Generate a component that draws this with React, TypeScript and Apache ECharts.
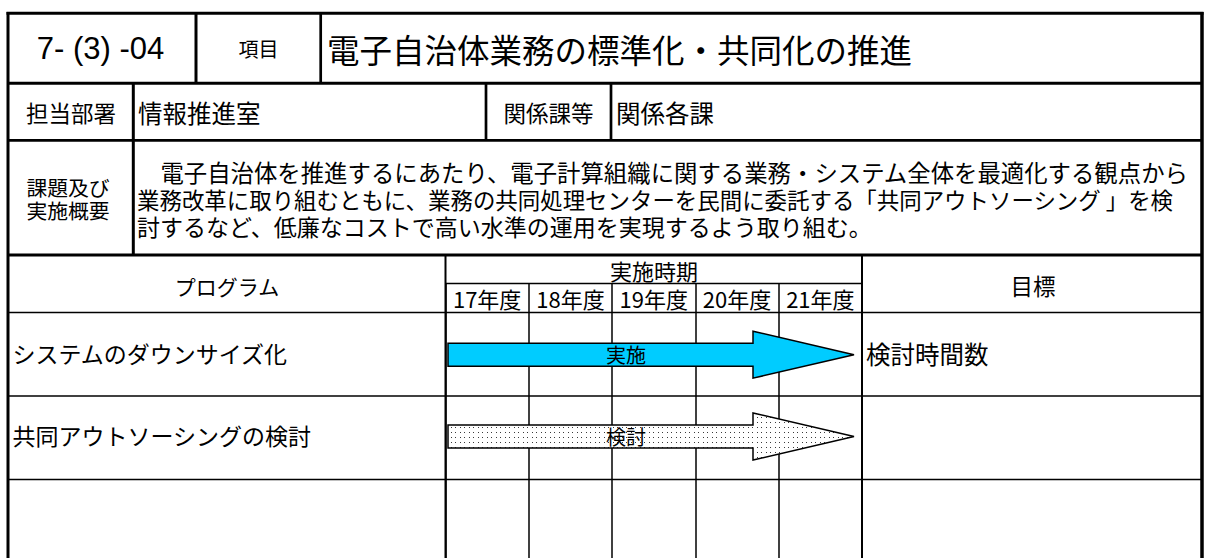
import React, { useEffect, useRef } from 'react';
import * as echarts from 'echarts';

// ---- data ----
const years = ['17年度', '18年度', '19年度', '20年度', '21年度'];
const programs = ['システムのダウンサイズ化', '共同アウトソーシングの検討', ''];
const targets = ['検討時間数', '', ''];
const startFY = [17, 17];
const endFY = [21, 21];
const arrowLabels = ['実施', '検討'];
const arrowKinds = ['solid', 'dots'];

const headerCode = '7- (3) -04';
const headerItem = '項目';
const title = '電子自治体業務の標準化・共同化の推進';
const deptLabel = '担当部署';
const dept = '情報推進室';
const relLabel = '関係課等';
const rel = '関係各課';
const summaryLabel = ['課題及び', '実施概要'];
const summaryLines = [
  '　電子自治体を推進するにあたり、電子計算組織に関する業務・システム全体を最適化する観点から',
  '業務改革に取り組むともに、業務の共同処理センターを民間に委託する「共同アウトソーシング 」を検',
  '討するなど、低廉なコストで高い水準の運用を実現するよう取り組む。',
];
const programHeader = 'プログラム';
const periodHeader = '実施時期';
const targetHeader = '目標';

const FONT = '"Noto Sans CJK JP", "Noto Sans", sans-serif';

export default function App() {
  const ref = useRef<HTMLDivElement>(null);

  useEffect(() => {
    const chart = echarts.init(ref.current!, null, { renderer: 'svg' });

    const cv = document.createElement('canvas');
    cv.width = 9;
    cv.height = 5;
    const ctx = cv.getContext('2d')!;
    ctx.fillStyle = '#ffffff';
    ctx.fillRect(0, 0, 9, 5);
    ctx.fillStyle = '#3a3a3a';
    ctx.fillRect(1, 2, 1, 1);
    ctx.fillRect(5, 2, 1, 1);
    const dotPattern: any = { image: cv.toDataURL(), repeat: 'repeat', imageWidth: 9, imageHeight: 5 };

    const line = (x1: number, y1: number, x2: number, y2: number, w: number) => ({
      type: 'line',
      shape: { x1, y1, x2, y2 },
      style: { stroke: '#000', lineWidth: w },
      silent: true,
    });
    const txt = (text: string, x: number, y: number, fontSize: number, align = 'left', family = FONT) => ({
      type: 'text',
      x,
      y,
      style: {
        text,
        fontSize,
        fontFamily: family,
        fill: '#000',
        align,
        verticalAlign: 'middle',
        lineHeight: Math.round(fontSize),
      },
      silent: true,
    });

    const graphics: any[] = [
      // thick structure
      line(6.5, 13.3, 1203.5, 13.3, 3),
      line(8, 12, 8, 558, 3),
      line(1202, 12, 1202, 558, 3.5),
      line(8, 83.3, 1202, 83.3, 3),
      line(196, 13, 196, 83.3, 3),
      line(320.7, 13, 320.7, 83.3, 2.7),
      line(8, 140.3, 1202, 140.3, 2.7),
      line(133.3, 83, 133.3, 255, 3),
      line(486, 83, 486, 140.3, 2.7),
      line(611, 83, 611, 140.3, 2.7),
      line(8, 255, 1202, 255, 3),
      // schedule section
      line(445.5, 255, 445.5, 558, 2),
      line(862, 255, 862, 558, 2),
      line(445.5, 283.5, 862, 283.5, 1.5),
      line(8, 312.5, 1202, 312.5, 1.5),
      line(8, 396, 1202, 396, 1.5),
      line(8, 479.5, 1202, 479.5, 1.5),
      // texts
      txt(headerCode, 100.5, 48, 31, 'center', '"Liberation Sans", Arial, sans-serif'),
      txt(headerItem, 258.5, 48, 20, 'center'),
      txt(title, 327, 48, 32.5, 'left'),
      txt(deptLabel, 71, 112, 22.5, 'center'),
      txt(dept, 138, 112, 24.5, 'left'),
      txt(relLabel, 548.5, 112, 22.5, 'center'),
      txt(rel, 616, 112, 24.5, 'left'),
      txt(summaryLabel[0], 68, 186.5, 20.8, 'center'),
      txt(summaryLabel[1], 68, 210, 20.8, 'center'),
      txt(summaryLines[0], 137, 172, 23.4, 'left'),
      txt(summaryLines[1], 137, 199, 22.45, 'left'),
      txt(summaryLines[2], 137, 226, 23, 'left'),
      txt(programHeader, 227, 286, 21, 'center'),
      txt(periodHeader, 654, 270, 22, 'center'),
      txt(targetHeader, 1033, 285, 22.5, 'center'),
    ];

    const option: any = {
      animation: false,
      backgroundColor: '#ffffff',
      grid: { left: 445.5, top: 312.5, width: 416.5, height: 250.5 },
      xAxis: [
        {
          type: 'category',
          data: years,
          position: 'top',
          boundaryGap: true,
          axisLine: { show: false },
          axisTick: { show: true, interval: 0, length: 29, lineStyle: { color: '#000', width: 1.5 } },
          axisLabel: {
            interval: 0,
            margin: 14.5,
            fontSize: 22,
            lineHeight: 22,
            color: '#000',
            fontFamily: FONT,
            verticalAlign: 'middle',
          },
          splitLine: { show: true, interval: 0, lineStyle: { color: '#000', width: 1.5 } },
        },
        { type: 'value', min: 17, max: 22, show: false },
      ],
      yAxis: [
        {
          type: 'category',
          data: programs,
          inverse: true,
          axisLine: { show: false },
          axisTick: { show: false },
          splitLine: { show: false },
          axisLabel: { interval: 0, align: 'left', margin: 433, fontSize: 23, color: '#000', fontFamily: FONT },
        },
        {
          type: 'category',
          data: programs,
          inverse: true,
          position: 'right',
          axisLine: { show: false },
          axisTick: { show: false },
          splitLine: { show: false },
          axisLabel: {
            interval: 0,
            align: 'left',
            margin: 4,
            fontSize: 24.5,
            color: '#000',
            fontFamily: FONT,
            formatter: (_v: string, idx: number) => targets[idx] || '',
          },
        },
      ],
      graphic: graphics,
      series: [
        {
          type: 'custom',
          xAxisIndex: 1,
          yAxisIndex: 0,
          encode: { x: [0, 1], y: 2 },
          data: startFY.map((s, i) => [s, endFY[i], i]),
          renderItem: (params: any, api: any) => {
            const i = params.dataIndex;
            const s = api.coord([api.value(0), api.value(2)]);
            const e = api.coord([api.value(1) + 1, api.value(2)]);
            const x0 = s[0] + 2.5;
            const x1 = e[0] - 8;
            const cy = s[1] + 1.25;
            const hx = x1 - 101;
            const fill = arrowKinds[i] === 'solid' ? '#00CCFF' : dotPattern;
            return {
              type: 'group',
              children: [
                {
                  type: 'polygon',
                  shape: {
                    points: [
                      [x0, cy - 11.5],
                      [hx, cy - 11.5],
                      [hx, cy - 23.5],
                      [x1, cy],
                      [hx, cy + 23.5],
                      [hx, cy + 11.5],
                      [x0, cy + 11.5],
                    ],
                  },
                  style: { fill, stroke: '#000', lineWidth: 1.5 },
                },
                {
                  type: 'text',
                  x: (x0 + x1) / 2 - 25,
                  y: cy,
                  style: {
                    text: arrowLabels[i],
                    align: 'center',
                    verticalAlign: 'middle',
                    fontSize: 20,
                    fontFamily: FONT,
                    fill: '#000',
                  },
                },
              ],
            };
          },
        },
      ],
    };

    chart.setOption(option);
    return () => chart.dispose();
  }, []);

  return (
    <div
      ref={ref}
      style={{ position: 'absolute', left: 0, top: 0, width: 1205, height: 558, background: '#fff' }}
    />
  );
}
